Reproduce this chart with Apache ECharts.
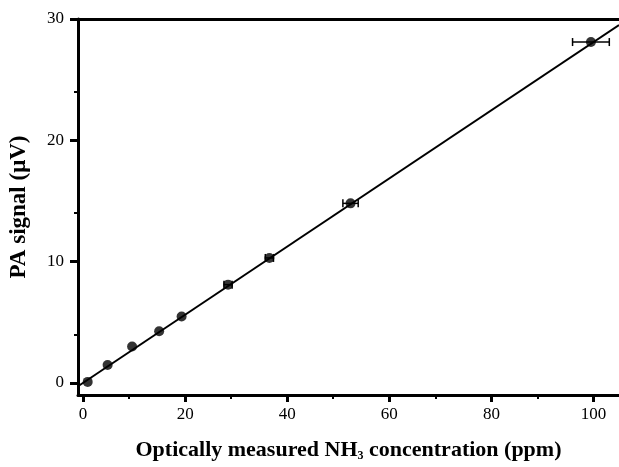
<!DOCTYPE html>
<html lang="en">
<head>
<meta charset="UTF-8">
<title>PA signal vs NH3</title>
<script src="https://cdn.jsdelivr.net/npm/echarts@6/dist/echarts.min.js"></script>
<style>body{margin:0;background:#fff}</style>
</head>
<body>
<div id="main" style="width:619px;height:467px"></div>
<script>
// measured points (ppm, uV) and horizontal error (ppm)
let conc = [0.9, 4.8, 9.6, 14.9, 19.3, 28.4, 36.5, 52.4, 99.5]
let signal = [0.08, 1.47, 3.0, 4.25, 5.47, 8.1, 10.3, 14.8, 28.1]
let concErr = [0, 0, 0, 0, 0, 0.8, 0.8, 1.5, 3.6]
// linear fit end points
let fitX = [-1, 105]
let fitY = [-0.28, 29.5]
let xTicks = [0, 20, 40, 60, 80, 100]
let yTicks = [0, 10, 20, 30]

let pts = conc.map(function (c, i) { return [c, signal[i]] })
let errs = conc.map(function (c, i) { return [c - concErr[i], c + concErr[i], signal[i]] }).filter(function (d, i) { return concErr[i] > 0 })
let fit = fitX.map(function (x, i) { return [x, fitY[i]] })

let font = 'Liberation Serif'
let chart = echarts.init(document.getElementById('main'))
chart.setOption({
    animation: false,
    grid: {left: 77, top: 19, right: -5, bottom: 69},
    xAxis: [{
        type: 'value', min: -1, max: 105, interval: 20,
        splitLine: {show: false},
        axisLine: {onZero: false, lineStyle: {color: '#000', width: 3}},
        axisTick: {length: 7, lineStyle: {color: '#000', width: 3}, customValues: xTicks},
        minorTick: {show: true, splitNumber: 2, length: 4, lineStyle: {color: '#000', width: 2}},
        axisLabel: {color: '#000', fontFamily: font, fontSize: 17, margin: 11, customValues: xTicks},
        name: '{t|Optically measured NH}{s|3}{t| concentration (ppm)}',
        nameLocation: 'middle', nameGap: 43,
        nameTextStyle: {rich: {
            t: {fontFamily: font, fontWeight: 'bold', fontSize: 22, color: '#000'},
            s: {fontFamily: font, fontWeight: 'bold', fontSize: 12, color: '#000', padding: [12, 0, 0, 0]}
        }}
    }, {
        type: 'value', position: 'top', min: -1, max: 105,
        splitLine: {show: false},
        axisLine: {onZero: false, lineStyle: {color: '#000', width: 3}},
        axisTick: {show: false}, axisLabel: {show: false}
    }],
    yAxis: {
        type: 'value', min: -1, max: 30, interval: 10,
        splitLine: {show: false},
        axisLine: {onZero: false, lineStyle: {color: '#000', width: 3}},
        axisTick: {length: 8, lineStyle: {color: '#000', width: 3}, customValues: yTicks},
        minorTick: {show: true, splitNumber: 2, length: 4, lineStyle: {color: '#000', width: 2}},
        axisLabel: {color: '#000', fontFamily: font, fontSize: 17, margin: 14, customValues: yTicks},
        name: 'PA signal (\u03bcV)', nameLocation: 'middle', nameGap: 47,
        nameTextStyle: {fontFamily: font, fontWeight: 'bold', fontSize: 23, color: '#000'}
    },
    series: [{
        type: 'line', data: fit, symbol: 'none',
        lineStyle: {color: '#000', width: 2}
    }, {
        type: 'custom', data: errs,
        renderItem: function (params, api) {
            let a = api.coord([api.value(0), api.value(2)])
            let b = api.coord([api.value(1), api.value(2)])
            let h = 4
            return {type: 'group', children: [
                {type: 'line', shape: {x1: a[0], y1: a[1], x2: b[0], y2: b[1]}, style: {stroke: '#000', lineWidth: 1.5}},
                {type: 'line', shape: {x1: a[0], y1: a[1] - h, x2: a[0], y2: a[1] + h}, style: {stroke: '#000', lineWidth: 1.5}},
                {type: 'line', shape: {x1: b[0], y1: b[1] - h, x2: b[0], y2: b[1] + h}, style: {stroke: '#000', lineWidth: 1.5}}
            ]}
        }
    }, {
        type: 'scatter', data: pts, symbol: 'circle', symbolSize: 10,
        itemStyle: {color: '#000'}
    }]
})
</script>
</body>
</html>
